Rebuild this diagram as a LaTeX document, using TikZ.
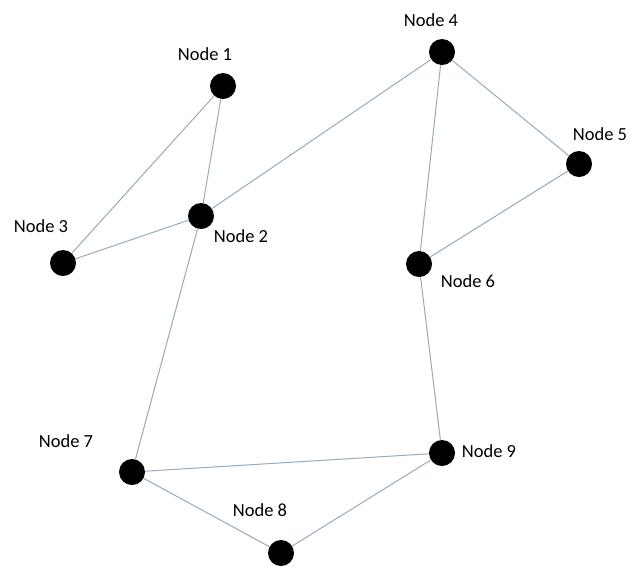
\documentclass[tikz,border=0pt]{standalone}
\usepackage{fontspec}
\setmainfont{Carlito}
\definecolor{edgecol}{RGB}{150,172,190}
\begin{document}
\begin{tikzpicture}[x=1pt,y=-1pt,
  dot/.style={circle,fill=black,inner sep=0pt,minimum size=26pt},
  lbl/.style={font=\fontsize{18.5}{21}\selectfont,inner sep=0pt},
  edge/.style={draw=edgecol,line width=1pt}]
\useasboundingbox[fill=white] (0,0) rectangle (631,566);
\node[dot] (n1) at (223,86) {};
\node[dot] (n2) at (201,216) {};
\node[dot] (n3) at (63,263) {};
\node[dot] (n4) at (442,52) {};
\node[dot] (n5) at (579,164) {};
\node[dot] (n6) at (419,264) {};
\node[dot] (n7) at (132,472) {};
\node[dot] (n8) at (281,553) {};
\node[dot] (n9) at (442,453) {};
\node[lbl] (l1) at (205,54) {Node 1};
\node[lbl] (l2) at (241,236) {Node 2};
\node[lbl] (l3) at (41,226) {Node 3};
\node[lbl] (l4) at (431,20) {Node 4};
\node[lbl] (l5) at (600,134) {Node 5};
\node[lbl] (l6) at (468,281) {Node 6};
\node[lbl] (l7) at (66,441) {Node 7};
\node[lbl] (l8) at (260,510) {Node 8};
\node[lbl] (l9) at (489,451) {Node 9};
\draw[edge] (n1) -- (n2);
\draw[edge] (n1) -- (n3);
\draw[edge] (n3) -- (n2);
\draw[edge] (n2) -- (n4);
\draw[edge] (n4) -- (n6);
\draw[edge] (n4) -- (n5);
\draw[edge] (n5) -- (n6);
\draw[edge] (n6) -- (n9);
\draw[edge] (n2) -- (n7);
\draw[edge] (n7) -- (n9);
\draw[edge] (n7) -- (n8);
\draw[edge] (n8) -- (n9);
\end{tikzpicture}
\end{document}
